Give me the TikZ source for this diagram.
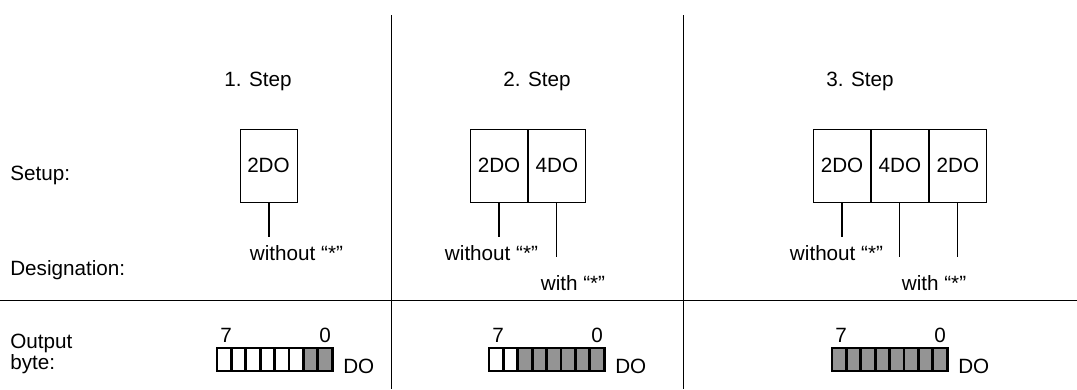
\documentclass[tikz,border=0pt]{standalone}
\usepackage{fontspec}
\setmainfont{Liberation Sans}
\usetikzlibrary{positioning}
\definecolor{bitgrey}{gray}{0.58}
\tikzset{
  module/.style={draw,line width=0.7pt,minimum width=42.75pt,minimum height=54.75pt,inner sep=0pt},
  nostar/.style={line width=1.5pt},
  withstar/.style={line width=0.75pt},
  rowlabel/.style={anchor=west,inner sep=0pt,align=left},
}
\begin{document}
\begin{tikzpicture}[x=0.75pt,y=-0.75pt,font=\fontsize{15.5}{12.5}\selectfont]
  \useasboundingbox (0,0) rectangle (1077,389);
  \draw[line width=0.75pt] (0,300) -- (1077,300);
  \draw[line width=0.75pt] (391,15) -- (391,389);
  \draw[line width=0.75pt] (683,15) -- (683,389);
  \node[rowlabel] (setup) at (10,175) {Setup:};
  \node[rowlabel] (desig) at (10,270) {Designation:};
  \node[rowlabel] (outb) at (10,354) {Output\\byte:};
  \node (st1) at (258,81) {1. Step};
  \node (st2) at (537,81) {2. Step};
  \node (st3) at (860,81) {3. Step};
  % modules
  \node[module] (m1) at (268.5,165.5) {2DO};
  \node[module] (m2a) at (499,165.5) {2DO};
  \node[module,right=0pt of m2a] (m2b) {4DO};
  \node[module] (m3a) at (842,165.5) {2DO};
  \node[module,right=0pt of m3a] (m3b) {4DO};
  \node[module,right=0pt of m3b] (m3c) {2DO};
  % designation
  \coordinate[below=26.25pt of m1] (d1);
  \coordinate[below=26.25pt of m2a] (d2a);
  \coordinate[below=41.25pt of m2b] (d2b);
  \coordinate[below=26.25pt of m3a] (d3a);
  \coordinate[below=41.25pt of m3b] (d3b);
  \coordinate[below=41.25pt of m3c] (d3c);
  \draw[nostar] (m1) -- (d1);
  \draw[nostar] (m2a) -- (d2a);
  \draw[withstar] (m2b) -- (d2b);
  \draw[nostar] (m3a) -- (d3a);
  \draw[withstar] (m3b) -- (d3b);
  \draw[withstar] (m3c) -- (d3c);
  \node (wo1) at (296.5,253) {without “*”};
  \node (wo2) at (491.5,253) {without “*”};
  \node (wi2) at (573,283) {with “*”};
  \node (wo3) at (836.5,253) {without “*”};
  \node (wi3) at (934,283) {with “*”};
  % output bytes
  \foreach \bx/\nw/\k in {217/6/1,489/2/2,832/0/3} {
    \foreach \i in {0,...,7} {
      \ifnum\i<\nw \def\cf{white}\else\def\cf{bitgrey}\fi
      \draw[line width=2pt,fill=\cf] (\bx+\i*14.4,348) rectangle ++(14.4,23);
    }
    \node (hi\k) at (\bx+9,335) {7};
    \node (lo\k) at (\bx+108,335) {0};
    \node[anchor=west,inner sep=0pt] (do\k) at (\bx+126,366) {DO};
  }
\end{tikzpicture}
\end{document}
